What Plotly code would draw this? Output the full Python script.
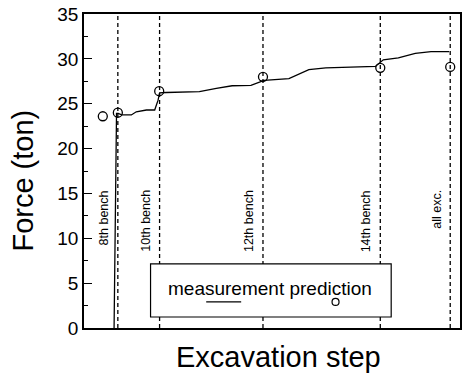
import plotly.graph_objects as go

# Excavation progress (arbitrary step scale 0-100) and measured strut force
measure_step = [8.0, 8.65, 9.1, 10.0, 12.6, 13.9, 16.6, 18.8, 19.7, 20.1, 21.9, 30.7,
                35.2, 39.4, 44.4, 47.9, 54.5, 59.8, 64.3, 77.5, 79.6, 83.6, 88.1, 92.3, 97.1]
measure_force = [0.0, 23.93, 23.93, 23.75, 23.75, 24.1, 24.3, 24.3, 25.4, 26.2, 26.25, 26.35,
                 26.7, 27.0, 27.05, 27.6, 27.8, 28.8, 29.0, 29.15, 29.9, 30.1, 30.6, 30.8, 30.8]

# Predicted force at each stage
pred_step = [5.0, 9.0, 20.0, 47.6, 78.8, 97.4]
pred_force = [23.6, 24.0, 26.4, 28.0, 29.0, 29.1]

# Bench stages
bench_step = [9.0, 20.1, 47.6, 78.8, 97.4]
bench_label = ["8th bench", "10th bench", "12th bench", "14th bench", "all exc."]

FONT = "Liberation Sans, Arial, Helvetica, sans-serif"

fig = go.Figure()

# dashed stage markers
vx, vy = [], []
for s in bench_step:
    vx += [s, s, None]
    vy += [0, 35, None]
fig.add_trace(go.Scatter(x=vx, y=vy, mode="lines",
                         line=dict(color="black", width=1.3, dash="4px,3px"),
                         hoverinfo="skip", showlegend=False))

fig.add_trace(go.Scatter(x=measure_step, y=measure_force, mode="lines",
                         line=dict(color="black", width=1.3),
                         name="measurement", showlegend=False))
fig.add_trace(go.Scatter(x=pred_step, y=pred_force, mode="markers",
                         marker=dict(symbol="circle-open", size=9, color="black",
                                     line=dict(width=1.3)),
                         name="prediction", showlegend=False))

for s, lab in zip(bench_step, bench_label):
    fig.add_annotation(x=s, y=15.6, xref="x", yref="y", text=lab, textangle=-90,
                       showarrow=False, xanchor="center", yanchor="top", xshift=-14,
                       font=dict(family=FONT, size=12.5, color="black"))

# legend panel
fig.add_shape(type="rect", xref="paper", yref="paper", x0=0.177, x1=0.817,
              y0=0.035, y1=0.204, fillcolor="white",
              line=dict(color="black", width=1.2), layer="above")
fig.add_annotation(xref="paper", yref="paper", x=0.494, y=0.127,
                   text="measurement prediction", showarrow=False,
                   xanchor="center", yanchor="middle",
                   font=dict(family=FONT, size=19, color="black"))
fig.add_shape(type="line", xref="paper", yref="paper", x0=0.325, x1=0.418,
              y0=0.083, y1=0.083, line=dict(color="black", width=1.3), layer="above")
fig.add_shape(type="circle", xref="paper", yref="paper", xsizemode="pixel",
              ysizemode="pixel", xanchor=0.669, yanchor=0.083,
              x0=-3.5, x1=3.5, y0=-3.5, y1=3.5,
              line=dict(color="black", width=1.2), fillcolor="white", layer="above")

# axis titles
fig.add_annotation(xref="paper", yref="paper", x=-0.161, y=0.471, text="Force (ton)",
                   textangle=-90, showarrow=False, xanchor="center", yanchor="middle",
                   font=dict(family=FONT, size=29, color="black"))
fig.add_annotation(xref="paper", yref="paper", x=0.516, y=-0.092, text="Excavation step",
                   showarrow=False, xanchor="center", yanchor="middle",
                   font=dict(family=FONT, size=29, color="black"))

fig.update_xaxes(range=[0, 100], showgrid=False, zeroline=False, showticklabels=False,
                 ticks="", showline=True, mirror=True, linecolor="black", linewidth=1.5)
fig.update_yaxes(range=[0, 35], dtick=5, showgrid=False, zeroline=False,
                 ticks="inside", ticklen=8, tickwidth=1.2, tickcolor="black",
                 minor=dict(ticks="inside", ticklen=4, dtick=2.5, tickcolor="black"),
                 showline=True, mirror=True, linecolor="black", linewidth=1.5,
                 tickfont=dict(family=FONT, size=19, color="black"))

fig.update_layout(width=464, height=379, margin=dict(l=84, r=2, t=14, b=51),
                  paper_bgcolor="white", plot_bgcolor="white", showlegend=False)

fig.write_html("out.html")
